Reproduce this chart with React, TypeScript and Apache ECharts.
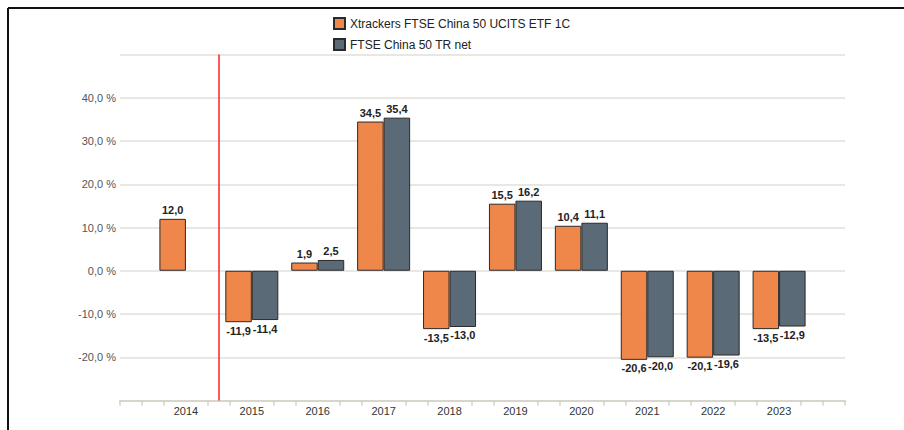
import React, { useEffect, useRef } from "react";
import * as echarts from "echarts";

const years = [2014, 2015, 2016, 2017, 2018, 2019, 2020, 2021, 2022, 2023];
const etfValues: (number | null)[] = [12.0, -11.9, 1.9, 34.5, -13.5, 15.5, 10.4, -20.6, -20.1, -13.5];
const indexValues: (number | null)[] = [null, -11.4, 2.5, 35.4, -13.0, 16.2, 11.1, -20.0, -19.6, -12.9];
const yTickLabels = [-20, -10, 0, 10, 20, 30, 40];
const seriesNames = ["Xtrackers FTSE China 50 UCITS ETF 1C", "FTSE China 50 TR net"];
const markerX = 2014.5;

const fmt = (v: number) => v.toFixed(1).replace(".", ",");

export default function App() {
  const ref = useRef<HTMLDivElement>(null);
  useEffect(() => {
    const chart = echarts.init(ref.current!, null, { renderer: "svg" });
    const font = "'Liberation Sans', Arial, sans-serif";
    const labelCfg = {
      show: true,
      fontFamily: font,
      fontSize: 11,
      fontWeight: "bold" as const,
      color: "#222",
      distance: 3,
      formatter: (p: any) => fmt(p.value[1]),
    };
    const mk = (vals: (number | null)[], name: string, color: string) => ({
      type: "bar",
      name,
      barWidth: 26.5,
      barGap: "0%",
      data: years.map((y, i) =>
        vals[i] === null
          ? { value: [y, null] }
          : {
              value: [y, vals[i]],
              label: { ...labelCfg, position: (vals[i] as number) >= 0 ? "top" : "bottom" },
            }
      ),
      itemStyle: { color, borderColor: "#2a2a2a", borderWidth: 1 },
    });
    const tickStyle = { color: "#d3d0c6", width: 1.5 };
    chart.setOption({
      animation: false,
      textStyle: { fontFamily: font },
      legend: {
        orient: "vertical",
        left: 328,
        top: 12,
        itemWidth: 11,
        itemHeight: 11,
        itemGap: 8,
        icon: "rect",
        textStyle: { fontSize: 12, color: "#222", fontFamily: font },
        data: seriesNames,
      },
      grid: { left: 120, right: 59, top: 54.5, bottom: 29.5 },
      xAxis: {
        type: "value",
        min: 2013,
        max: 2024,
        interval: 1,
        splitLine: { show: false },
        axisLine: { show: true, onZero: false, lineStyle: { color: "#d8d5cc", width: 2 } },
        axisTick: { show: true, customValues: [2013, 2024], length: 5, lineStyle: tickStyle },
        minorTick: { show: true, splitNumber: 3, length: 5, lineStyle: tickStyle },
        axisLabel: {
          customValues: years,
          color: "#333",
          fontSize: 11,
          fontFamily: font,
          margin: 5,
          formatter: (v: number) => String(v),
        },
      },
      yAxis: {
        type: "value",
        min: -30,
        max: 50,
        interval: 10,
        axisLine: { show: false },
        axisTick: { show: false },
        splitLine: { show: true, lineStyle: { color: "#e2dfd8", width: 1.5 } },
        axisLabel: {
          customValues: yTickLabels,
          color: "#555",
          fontSize: 11,
          fontFamily: font,
          margin: 4,
          formatter: (v: number) => fmt(v) + " %",
        },
      },
      graphic: [
        { type: "line", shape: { x1: 8, y1: 8, x2: 904, y2: 8 }, style: { stroke: "#111", lineWidth: 2 } },
        { type: "line", shape: { x1: 8, y1: 8, x2: 8, y2: 430 }, style: { stroke: "#111", lineWidth: 2 } },
      ],
      series: [
        mk(etfValues, seriesNames[0], "#ef874b"),
        mk(indexValues, seriesNames[1], "#5b6a77"),
        {
          type: "line",
          name: "marker",
          data: [],
          silent: true,
          markLine: {
            silent: true,
            symbol: "none",
            label: { show: false },
            lineStyle: { color: "#ff2020", width: 1.5, type: "solid" },
            data: [{ xAxis: markerX }],
          },
        },
      ],
    });
    return () => chart.dispose();
  }, []);
  return <div ref={ref} style={{ position: "fixed", left: 0, top: 0, width: 904, height: 430, background: "#fff" }} />;
}
